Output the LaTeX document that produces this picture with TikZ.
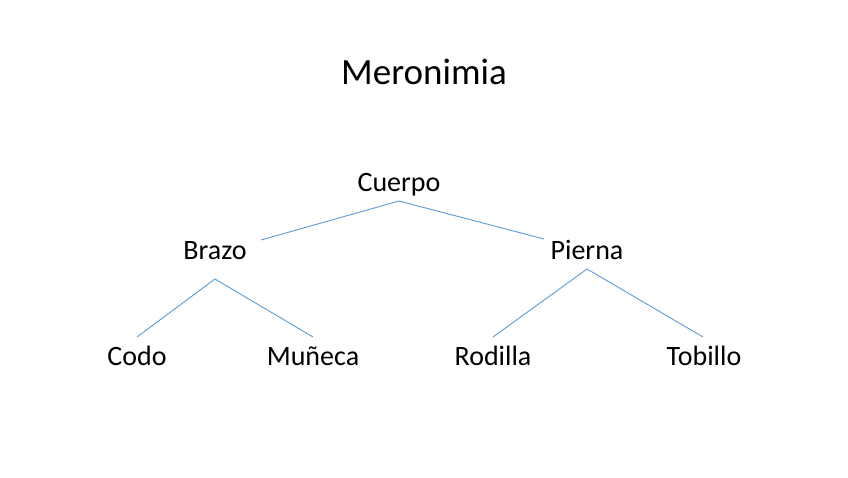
\documentclass[tikz,border=0pt]{standalone}
\usepackage{fontspec}
\setmainfont{Carlito}
\usepackage{xcolor}
\usetikzlibrary{positioning}
\definecolor{linkblue}{RGB}{91,155,213}
\tikzset{
  term/.style={anchor=base, inner sep=0pt, font=\fontsize{28}{34}\selectfont},
  titlelabel/.style={anchor=base, inner sep=0pt, font=\fontsize{37}{44}\selectfont},
  link/.style={draw=linkblue, line width=0.9pt},
}

\begin{document}
\begin{tikzpicture}[x=1pt, y=-1pt]
  \useasboundingbox (0,0) rectangle (848,477);

  % Title
  \node (title) at (424,84) [titlelabel] {Meronimia};

  % Terms
  \node (cuerpo) at (399,191) [term] {Cuerpo};
  \node (brazo) at (215,259) [term] {Brazo};
  \node (pierna) at (587,259) [term] {Pierna};
  \node (codo) at (137,365) [term] {Codo};
  \node (muneca) at (313,365) [term] {Muñeca};
  \node (rodilla) at (493,365) [term] {Rodilla};
  \node (tobillo) at (704,365) [term] {Tobillo};

  % Line ends
  \coordinate (cuerpoTop) at (399,201);
  \coordinate (brazoEnd) at (261,240);
  \coordinate (piernaEnd) at (544,239);
  \coordinate (brazoTop) at (215,279);
  \coordinate (codoEnd) at (137,337);
  \coordinate (munecaEnd) at (313,337);
  \coordinate (piernaTop) at (587,269);
  \coordinate (rodillaEnd) at (493,337);
  \coordinate (tobilloEnd) at (703,337);

  % Links
  \draw[link] (brazoEnd) -- (cuerpoTop) -- (piernaEnd);
  \draw[link] (codoEnd) -- (brazoTop) -- (munecaEnd);
  \draw[link] (rodillaEnd) -- (piernaTop) -- (tobilloEnd);

\end{tikzpicture}
\end{document}
